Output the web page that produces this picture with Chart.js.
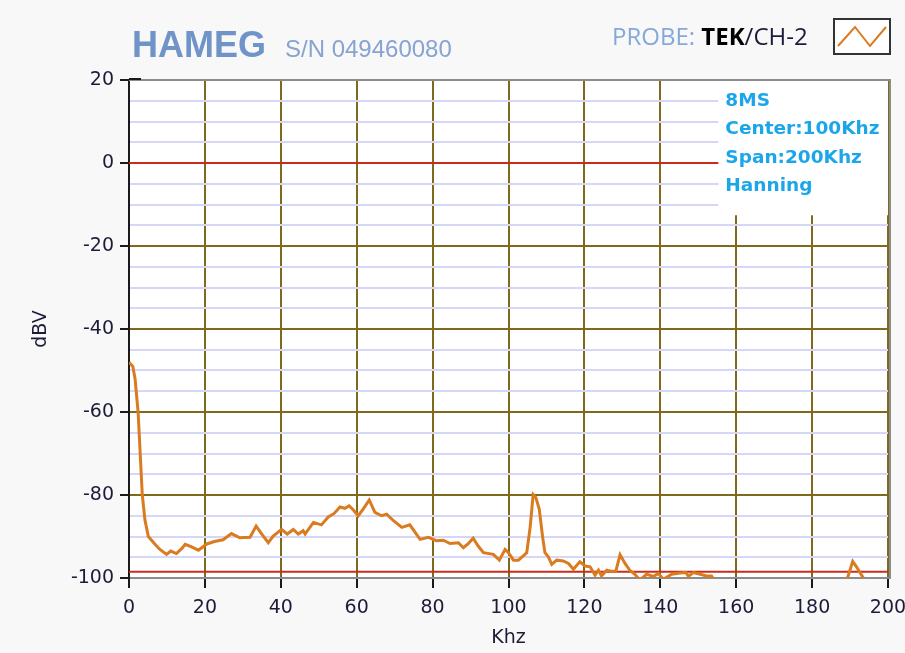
<!DOCTYPE html>
<html>
<head>
<meta charset="utf-8">
<script src="https://cdn.jsdelivr.net/npm/chart.js@4.4.1/dist/chart.umd.min.js"></script>
<style>
  body { margin: 0; background: #f8f8f8; }
  #wrap { width: 905px; height: 653px; position: relative; }
</style>
</head>
<body>
<div id="wrap"><canvas id="spectrumChart" width="905" height="653"></canvas></div>
<script>
// Spectrum trace (kHz / dBV)
const freqKhz = [
    0, 1, 1.6, 2.4, 3.5, 4.2, 5.1, 6.5, 8, 9.9,
    11, 12.5, 14, 14.8, 16.5, 18.3, 20.5, 22.5, 24.8, 27,
    29.2, 31.9, 33.5, 35, 36.7, 38, 40.2, 41.7, 43.3, 44.6,
    45.9, 46.4, 48.6, 50.7, 52.5, 54, 55.6, 56.9, 58, 59,
    60.4, 61.7, 63.3, 64.8, 66.6, 67.9, 69.7, 71.9, 74, 76.7,
    78.9, 81, 82.8, 84.6, 86.8, 88.1, 89.4, 90.7, 92, 93.4,
    96, 97.6, 99.1, 100, 101.3, 102.6, 103.9, 104.8, 105.7, 106.5,
    107.2, 108.1, 109, 109.6, 110.5, 111.4, 112.7, 114.4, 115.8, 117.1,
    118.8, 120.2, 121.5, 122.8, 123.7, 124.5, 125.9, 127.2, 128.3, 129.4,
    130.7, 132, 133.3, 134.6, 136.4, 138.2, 139.5, 140.8, 143, 145.2,
    146.8, 147.4, 148.7, 150.5, 152.2, 153.5, 154.5, 170,
    188.8, 189.5, 190.7, 191.7, 193.5, 194
];
const levelDbv = [
    -48, -49, -52, -60, -80, -86, -90, -91.5, -93, -94.3,
    -93.5, -94.1, -92.8, -91.9, -92.5, -93.3, -91.8, -91.2, -90.8, -89.3,
    -90.3, -90.2, -87.5, -89.4, -91.5, -89.9, -88.3, -89.4, -88.3, -89.4,
    -88.6, -89.4, -86.6, -87.2, -85.3, -84.5, -82.9, -83.2, -82.6, -83.5,
    -85, -83.4, -81.2, -84.2, -85, -84.6, -86.2, -87.8, -87.2, -90.7,
    -90.2, -91, -90.9, -91.7, -91.5, -92.7, -91.7, -90.4, -92.3, -93.9,
    -94.3, -95.7, -93.1, -93.9, -95.7, -95.7, -94.7, -93.9, -87.8, -79.9,
    -80.6, -83.4, -90.2, -93.9, -94.9, -96.7, -95.7, -95.9, -96.5, -97.9,
    -96.1, -97.1, -97.3, -99.3, -98.1, -99.5, -98.1, -98.4, -98.3, -94.4,
    -96.5, -98.2, -99.1, -100.5, -99.1, -99.6, -98.9, -100.3, -99.1, -98.8,
    -98.7, -99.6, -98.7, -99.1, -99.5, -99.5, -101, null,
    -101, -99.5, -96, -97.3, -100, -101
];

// red reference levels
const refLevels = [0, -98.5];
const xRange = [0, 200];
const yRange = [-100, 20];
const xTicks = [0, 20, 40, 60, 80, 100, 120, 140, 160, 180, 200];
// minor grid every 5 dBV, labels on multiples of 20
const yTicks = [-100, -95, -90, -85, -80, -75, -70, -65, -60, -55, -50, -45, -40,
    -35, -30, -25, -20, -15, -10, -5, 0, 5, 10, 15, 20];

const infoLines = ['8MS', 'Center:100Khz', 'Span:200Khz', 'Hanning'];

const TRACE = '#db7b1f';
const MAJOR = '#7f6a1c';
const MINOR = '#d6d6f6';
const REF_RED = '#cc2b1b';
const TICK_TEXT = '#1c1c3a';

const tracePoints = freqKhz.map((f, i) => ({ x: f, y: levelDbv[i] }));

const refDatasets = refLevels.map(lvl => ({
    label: 'ref ' + lvl,
    data: xRange.map(x => ({ x: x, y: lvl })),
    borderColor: REF_RED,
    borderWidth: 2,
    pointRadius: 0,
    order: 2
}));

const isMajor = v => v % 20 === 0;

// white plot background + frame
const plotBackground = {
    id: 'plotBackground',
    beforeDraw(chart) {
        const { ctx, chartArea: { left, top, width, height } } = chart;
        ctx.save();
        ctx.fillStyle = '#ffffff';
        ctx.fillRect(left, top, width, height);
        ctx.restore();
    },
    afterDraw(chart) {
        const { ctx, chartArea: { left, top, right, bottom } } = chart;
        ctx.save();
        ctx.strokeStyle = '#8c8c8c';
        ctx.lineWidth = 2;
        ctx.beginPath();
        ctx.moveTo(left, top);
        ctx.lineTo(right + 2, top);
        ctx.lineTo(right + 2, bottom + 1);
        ctx.stroke();
        ctx.strokeStyle = '#1a1a1a';
        ctx.beginPath();
        ctx.moveTo(left, top - 1);
        ctx.lineTo(left + 12, top - 1);
        ctx.stroke();
        ctx.restore();
    }
};

// info box in the top right corner of the plot
const infoBox = {
    id: 'infoBox',
    afterDatasetsDraw(chart) {
        const { ctx, scales: { x, y } } = chart;
        const bx = x.getPixelForValue(155.3);
        const by = y.getPixelForValue(20);
        const bw = x.getPixelForValue(200) - bx;
        const bh = y.getPixelForValue(-12.6) - by;
        ctx.save();
        ctx.fillStyle = '#ffffff';
        ctx.fillRect(bx, by, bw, bh);
        ctx.font = 'bold 18.5px "DejaVu Sans", sans-serif';
        ctx.fillStyle = '#1ba6ea';
        ctx.textBaseline = 'middle';
        infoLines.forEach((t, i) => ctx.fillText(t, bx + 7, by + 21 + i * 28.5));
        ctx.restore();
    }
};

// header: instrument name, serial, probe and legend swatch
const header = {
    id: 'header',
    afterDraw(chart) {
        const { ctx } = chart;
        ctx.save();
        ctx.textBaseline = 'alphabetic';
        ctx.font = 'bold 36px "Liberation Sans", Arial, sans-serif';
        ctx.fillStyle = '#7094c8';
        ctx.fillText('HAMEG', 132, 57);
        ctx.font = '24px "Liberation Sans", Arial, sans-serif';
        ctx.fillStyle = '#86a3d2';
        ctx.fillText('S/N 049460080', 285, 57);

        let px = 612;
        ctx.font = '24px "Open Sans", sans-serif';
        ctx.fillStyle = '#84a9d9';
        ctx.fillText('PROBE: ', px, 45);
        px += ctx.measureText('PROBE: ').width;
        ctx.font = 'bold 24px "Open Sans", sans-serif';
        ctx.fillStyle = '#000000';
        ctx.fillText('TEK', px, 45);
        px += ctx.measureText('TEK').width;
        ctx.font = '24px "Open Sans", sans-serif';
        ctx.fillStyle = '#1c1c3a';
        ctx.fillText('/CH-2', px, 45);

        // legend swatch
        ctx.fillStyle = '#ffffff';
        ctx.fillRect(834, 19, 56, 35);
        ctx.strokeStyle = '#333333';
        ctx.lineWidth = 2;
        ctx.strokeRect(834, 19, 56, 35);
        ctx.strokeStyle = TRACE;
        ctx.lineWidth = 2;
        ctx.beginPath();
        ctx.moveTo(838, 46);
        ctx.lineTo(855, 27);
        ctx.lineTo(870, 46);
        ctx.lineTo(886, 27);
        ctx.stroke();
        ctx.restore();
    }
};

const ctx = document.getElementById('spectrumChart').getContext('2d');
new Chart(ctx, {
    type: 'line',
    data: {
        datasets: [
            ...refDatasets,
            {
                label: 'TEK/CH-2',
                data: tracePoints,
                borderColor: TRACE,
                borderWidth: 3,
                pointRadius: 0,
                tension: 0,
                spanGaps: false,
                order: 1
            }
        ]
    },
    plugins: [plotBackground, infoBox, header],
    options: {
        responsive: false,
        animation: false,
        layout: { padding: { top: 80, right: 17, left: 0, bottom: 0 } },
        plugins: {
            legend: { display: false },
            tooltip: { enabled: false }
        },
        scales: {
            x: {
                type: 'linear',
                min: xRange[0],
                max: xRange[1],
                afterBuildTicks(scale) { scale.ticks = xTicks.map(v => ({ value: v })); },
                afterFit(scale) {
                    scale.height = 75;
                    scale.paddingRight = 0;
                    scale.paddingLeft = 0;
                },
                border: { color: '#8c8c8c', width: 2 },
                grid: {
                    color: MAJOR,
                    lineWidth: 2,
                    tickColor: '#1a1a1a',
                    tickLength: 10
                },
                ticks: {
                    autoSkip: false,
                    maxRotation: 0,
                    padding: 9,
                    color: TICK_TEXT,
                    font: { family: 'DejaVu Sans', size: 19 }
                },
                title: {
                    display: true,
                    text: 'Khz',
                    color: TICK_TEXT,
                    padding: { top: 2 },
                    font: { family: 'DejaVu Sans', size: 19 }
                }
            },
            y: {
                min: yRange[0],
                max: yRange[1],
                afterBuildTicks(scale) { scale.ticks = yTicks.map(v => ({ value: v })); },
                afterFit(scale) { scale.width = 129; },
                border: { color: '#1a1a1a', width: 2 },
                grid: {
                    color: c => (isMajor(c.tick.value) ? MAJOR : MINOR),
                    lineWidth: 2,
                    tickColor: c => (isMajor(c.tick.value) ? '#1a1a1a' : 'rgba(0,0,0,0)'),
                    tickLength: 9
                },
                ticks: {
                    autoSkip: false,
                    padding: 6,
                    color: TICK_TEXT,
                    font: { family: 'DejaVu Sans', size: 19 },
                    callback: v => (isMajor(v) ? v : '')
                },
                title: {
                    display: true,
                    text: 'dBV',
                    color: TICK_TEXT,
                    padding: { top: 30, bottom: 0 },
                    font: { family: 'DejaVu Sans', size: 19 }
                }
            }
        }
    }
});
</script>
</body>
</html>
